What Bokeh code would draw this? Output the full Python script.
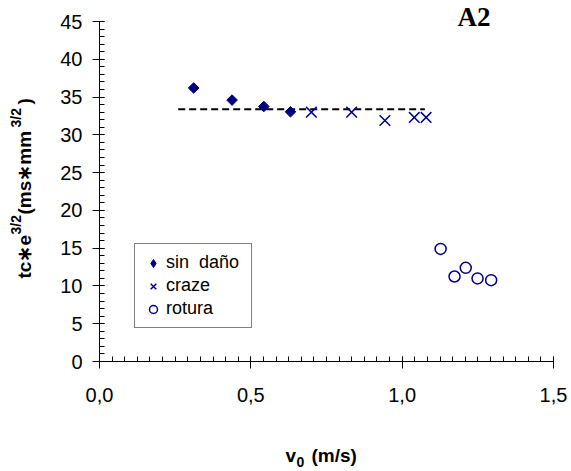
import math
from bokeh.plotting import figure
from bokeh.models import (Range1d, SingleIntervalTicker, CustomJSTickFormatter,
                          Label, Legend, LegendItem)
from bokeh.embed import file_html
from bokeh.resources import INLINE

# ---- data ----
sin_dano_x = [0.311, 0.438, 0.543, 0.631]
sin_dano_y = [36.2, 34.6, 33.75, 33.05]
craze_x = [0.700, 0.833, 0.943, 1.040, 1.079]
craze_y = [33.0, 33.0, 31.9, 32.3, 32.3]
rotura_x = [1.127, 1.173, 1.210, 1.249, 1.294]
rotura_y = [14.9, 11.25, 12.4, 11.0, 10.76]
mean_x = [0.26, 1.075]
mean_y = [33.4, 33.4]
legend_labels = ["sin  daño", "craze", "rotura"]
title_text = "A2"

# ---- layout (pixel geometry of the plot area) ----
W, H = 571, 471
L, R, T, B = 99, 553, 21, 361
XMAX, YMAX = 1.5, 45
NAVY = "#000080"
FONT = "Liberation Sans"
KB = 0.42  # empirical offset of the rendered alphabetic baseline (in em)

def dx(px):
    return (px - L) / (R - L) * XMAX

def dy(py):
    return (B - py) / (B - T) * YMAX

# the frame covers the whole canvas; axes are pinned at 0
p = figure(width=W, height=H, output_backend="svg", toolbar_location=None,
           x_range=Range1d(dx(0), dx(W)), y_range=Range1d(dy(H), dy(0)),
           min_border=0)
p.outline_line_color = None
p.xgrid.grid_line_color = None
p.ygrid.grid_line_color = None
p.background_fill_color = "white"
p.border_fill_color = "white"

xa = p.xaxis[0]
xa.ticker = SingleIntervalTicker(interval=0.5, num_minor_ticks=12)
xa.formatter = CustomJSTickFormatter(code="return tick.toFixed(1).replace('.', ',');")
xa.fixed_location = 0
xa.bounds = (0, XMAX)
ya = p.yaxis[0]
ya.ticker = SingleIntervalTicker(interval=5, num_minor_ticks=5)
ya.fixed_location = 0
ya.bounds = (0, YMAX)
for ax in (xa, ya):
    ax.axis_line_color = "black"
    ax.major_tick_line_color = "black"
    ax.minor_tick_line_color = "black"
    ax.major_tick_out = 7
    ax.major_tick_in = 5
    ax.minor_tick_out = 0
    ax.minor_tick_in = 5
    ax.major_label_text_font = FONT
    ax.major_label_text_font_size = "20px"
    ax.major_label_text_color = "black"
ya.major_label_standoff = 10
xa.major_label_standoff = 19

# mean dashed line
p.line(mean_x, mean_y, line_color="black", line_width=2, line_dash="7 4")

# data
r_sin_leg = p.scatter(sin_dano_x, sin_dano_y, marker="diamond", size=7,
                      fill_color=NAVY, line_color=NAVY)
r_sin = p.scatter(sin_dano_x, sin_dano_y, marker="square", angle=math.pi / 4,
                  size=7.5, fill_color=NAVY, line_color=NAVY)
r_craze = p.scatter(craze_x, craze_y, marker="x", size=15,
                    line_color=NAVY, line_width=1.5)
r_rot = p.scatter(rotura_x, rotura_y, marker="circle", size=11,
                  fill_color="white", line_color=NAVY, line_width=1.5)

legend = Legend(items=[LegendItem(label=legend_labels[0], renderers=[r_sin_leg]),
                       LegendItem(label=legend_labels[1], renderers=[r_craze]),
                       LegendItem(label=legend_labels[2], renderers=[r_rot])],
                location=(134, H - 328), border_line_color="black",
                border_line_width=1, background_fill_color="white",
                background_fill_alpha=1, label_text_font=FONT,
                label_text_font_size="18px", label_text_color="black",
                padding=8, spacing=2, margin=0, glyph_width=20,
                glyph_height=20, label_height=20, label_width=77,
                label_standoff=3)
p.add_layout(legend, "center")

# title
p.add_layout(Label(x=dx(473.5), y=dy(28 - KB * 27), text=title_text,
                   text_align="center", text_baseline="alphabetic",
                   text_font="Liberation Serif", text_font_style="bold",
                   text_font_size="27px", text_color="black"))

# y axis title pieces (rotated): (text, baseline x, start y, font px)
ypieces = [("tc\u2217e", 32, 278, 19), ("3/2", 21, 234, 14),
           ("(ms\u2217mm", 32, 214, 19), ("3/2", 21, 127, 14),
           (")", 32, 104, 19)]
for txt, sx, sy, fs in ypieces:
    p.add_layout(Label(x=dx(sx - KB * fs), y=dy(sy), text=txt,
                       angle=math.pi / 2, text_align="left",
                       text_baseline="alphabetic", text_font=FONT,
                       text_font_style="bold", text_font_size=f"{fs}px",
                       text_color="black"))

# x axis title pieces: (text, start x, baseline y, font px)
xpieces = [("v", 285, 463, 19), ("0", 296, 467, 14), ("(m/s)", 311, 463, 19)]
for txt, sx, sy, fs in xpieces:
    p.add_layout(Label(x=dx(sx), y=dy(sy - KB * fs), text=txt,
                       text_align="left", text_baseline="alphabetic",
                       text_font=FONT, text_font_style="bold",
                       text_font_size=f"{fs}px", text_color="black"))

open("out.html", "w").write(file_html(p, INLINE))
